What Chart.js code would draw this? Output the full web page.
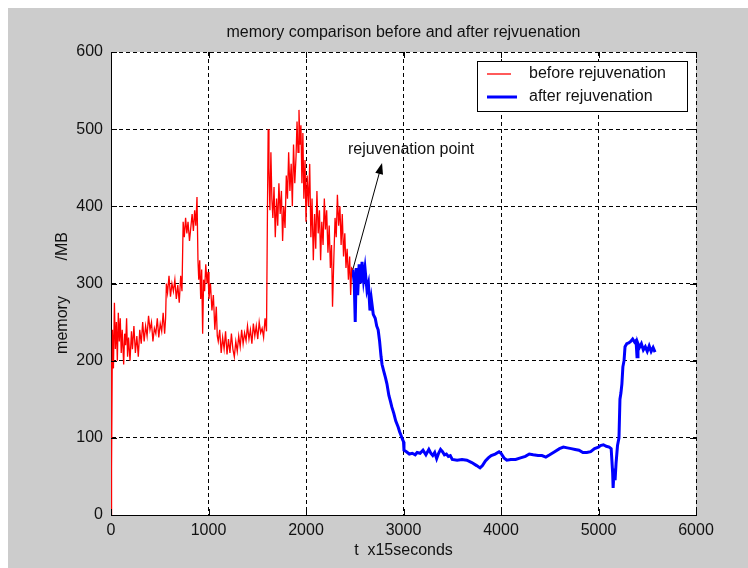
<!DOCTYPE html>
<html>
<head>
<meta charset="utf-8">
<script src="https://cdn.jsdelivr.net/npm/chart.js@4.4.1/dist/chart.umd.min.js"></script>
<style>
html, body { margin: 0; padding: 0; background: #fff; }
canvas { display: block; }
</style>
</head>
<body>
<canvas id="myChart" width="748" height="568"></canvas>
<script>
// memory (MB) vs time (x15 s), before and after rejuvenation
const beforeT = [0, 3, 8, 15, 25, 35, 45, 55, 65, 75, 85, 95, 105, 115, 130, 140, 150, 160, 170, 180,
  195, 210, 220, 235, 250, 265, 280, 295, 310, 325, 340, 355, 370, 385, 400, 415, 430, 445, 460, 475,
  490, 505, 520, 535, 550, 560, 568, 580, 595, 610, 625, 640, 655, 670, 685, 700, 715, 728, 740, 752,
  765, 778, 790, 805, 818, 832, 845, 858, 870, 882, 892, 900, 910, 920, 930, 940, 950, 960, 972, 985,
  995, 1005, 1020, 1035, 1050, 1065, 1080, 1090, 1100, 1115, 1130, 1145, 1160, 1175, 1190, 1205, 1220, 1235, 1250, 1265,
  1280, 1295, 1310, 1325, 1340, 1355, 1370, 1385, 1400, 1415, 1430, 1445, 1460, 1475, 1490, 1505, 1520, 1535, 1550, 1565,
  1580, 1595, 1605, 1612, 1620, 1630, 1640, 1650, 1660, 1672, 1685, 1698, 1710, 1722, 1735, 1748, 1760, 1772, 1785, 1798,
  1810, 1822, 1835, 1848, 1860, 1872, 1885, 1898, 1908, 1918, 1928, 1938, 1948, 1958, 1968, 1978, 1990, 2000, 2012, 2025,
  2038, 2050, 2062, 2075, 2088, 2100, 2112, 2125, 2138, 2150, 2162, 2175, 2188, 2200, 2212, 2225, 2238, 2250, 2262, 2272,
  2285, 2298, 2310, 2322, 2335, 2348, 2360, 2372, 2385, 2398, 2410, 2422, 2435, 2448, 2458, 2468, 2480]
const beforeMem = [0, 200, 60, 240, 190, 275, 215, 250, 200, 262, 225, 255, 210, 240, 195, 235, 220, 255, 205, 230,
  200, 238, 215, 245, 210, 232, 205, 240, 222, 250, 225, 245, 232, 258, 240, 250, 225, 242, 235, 255,
  230, 248, 238, 262, 235, 255, 300, 288, 310, 283, 300, 290, 305, 280, 298, 275, 310, 290, 380, 360,
  385, 365, 380, 355, 372, 390, 368, 395, 375, 412, 330, 305, 330, 280, 318, 235, 305, 290, 325, 300,
  315, 280, 300, 265, 285, 240, 270, 232, 225, 240, 210, 230, 215, 238, 208, 228, 210, 235, 215, 205,
  225, 212, 232, 218, 240, 222, 236, 226, 245, 228, 240, 222, 248, 232, 245, 228, 250, 236, 242, 230,
  255, 238, 400, 500, 450, 395, 470, 410, 385, 425, 360, 410, 375, 430, 390, 420, 355, 400, 372, 440,
  410, 470, 420, 455, 400, 480, 430, 465, 510, 470, 525, 480, 505, 430, 495, 410, 460, 380, 440, 400,
  455, 360, 410, 330, 390, 345, 420, 365, 395, 330, 380, 350, 410, 370, 395, 340, 375, 320, 350, 270,
  330, 385, 360, 415, 375, 400, 350, 390, 335, 365, 320, 345, 305, 335, 285, 320, 318]

const afterT = [2480, 2495, 2505, 2515, 2530, 2545, 2560, 2575, 2590, 2605, 2625, 2640, 2656, 2670, 2690, 2710, 2725, 2740, 2755, 2770,
  2780, 2800, 2815, 2830, 2850, 2865, 2880, 2900, 2920, 2945, 2960, 2975, 2990, 3000, 3005, 3030, 3060, 3090, 3120, 3140,
  3170, 3200, 3230, 3260, 3280, 3300, 3320, 3340, 3360, 3380, 3400, 3420, 3440, 3460, 3480, 3500, 3550, 3600, 3650, 3700,
  3750, 3785, 3810, 3840, 3870, 3900, 3940, 3980, 4000, 4030, 4060, 4100, 4150, 4200, 4250, 4290, 4330, 4380, 4420, 4460,
  4500, 4550, 4600, 4640, 4680, 4720, 4760, 4800, 4840, 4880, 4920, 4960, 5000, 5020, 5050, 5080, 5110, 5130, 5145, 5150,
  5160, 5170, 5180, 5195, 5210, 5220, 5230, 5240, 5250, 5262, 5272, 5290, 5310, 5330, 5350, 5370, 5385, 5395, 5405, 5420,
  5440, 5460, 5480, 5500, 5520, 5540, 5560, 5580]
const afterMem = [318, 300, 250, 320, 285, 325, 300, 328, 305, 320, 292, 300, 265, 280, 260, 255, 245, 240, 225, 205,
  195, 185, 178, 170, 155, 148, 140, 132, 122, 114, 108, 103, 98, 95, 84, 82, 79, 80, 78, 81,
  80, 84, 78, 85, 80, 77, 81, 73, 80, 85, 82, 78, 79, 76, 77, 72, 71, 72, 71, 68,
  64, 61, 64, 70, 74, 77, 79, 82, 80, 74, 71, 72, 72, 74, 76, 79, 78, 77, 77, 75,
  78, 82, 86, 88, 87, 86, 85, 84, 81, 81, 82, 86, 88, 90, 91, 89, 88, 86, 55, 35,
  60, 45, 67, 90, 100, 150, 158, 170, 192, 200, 218, 222, 223, 225, 228, 224, 226, 205, 222, 217,
  222, 214, 218, 212, 219, 212, 217, 211]

const seriesNames = ['before rejuvenation', 'after rejuvenation']
const xTicks = [0, 1000, 2000, 3000, 4000, 5000, 6000]
const yTicks = [0, 100, 200, 300, 400, 500, 600]

// annotation: label and arrow tip in data units, arrow starts at the first "after" point
const noteText = 'rejuvenation point'
const noteAt = [2430, 473]
const arrowTip = [2780, 456]

const fontFam = '"Liberation Sans", Arial, sans-serif'
const textColor = '#111'

function pts(ts, vs) {
  return ts.map((t, i) => ({ x: t, y: vs[i] }))
}

const matlabLook = {
  id: 'matlabLook',
  beforeDraw(chart) {
    const { ctx, chartArea: a, width, height } = chart
    ctx.save()
    ctx.fillStyle = '#fff'
    ctx.fillRect(0, 0, width, height)
    ctx.fillStyle = '#cccccc'
    ctx.fillRect(8, 8, width - 8, height - 8)
    ctx.fillStyle = '#fff'
    ctx.fillRect(a.left, a.top, a.right - a.left, a.bottom - a.top)
    ctx.restore()
  },
  afterDraw(chart) {
    const { ctx, chartArea: a, scales: { x, y } } = chart
    const line = (x1, y1, x2, y2) => { ctx.beginPath(); ctx.moveTo(x1, y1); ctx.lineTo(x2, y2); ctx.stroke() }
    ctx.save()

    // inward tick marks
    ctx.strokeStyle = '#000'
    ctx.lineWidth = 1
    xTicks.forEach(v => {
      const px = Math.round(x.getPixelForValue(v)) + 0.5
      line(px, a.bottom, px, a.bottom - 6)
      line(px, a.top, px, a.top + 6)
    })
    yTicks.forEach(v => {
      const py = Math.round(y.getPixelForValue(v)) + 0.5
      line(a.left, py, a.left + 6, py)
      line(a.right, py, a.right - 6, py)
    })

    // title and axis labels
    ctx.fillStyle = textColor
    ctx.textAlign = 'center'
    ctx.textBaseline = 'middle'
    ctx.font = '16px ' + fontFam
    ctx.fillText('memory comparison before and after rejvuenation', (a.left + a.right) / 2, 33)
    ctx.fillText('t  x15seconds', (a.left + a.right) / 2, 551)
    ctx.save()
    ctx.translate(63, 293)
    ctx.rotate(-Math.PI / 2)
    ctx.fillText('memory        /MB', 0, 0)
    ctx.restore()

    // legend box
    const lx = 477, ly = 61, lw = 210, lh = 50
    ctx.fillStyle = '#fff'
    ctx.fillRect(lx, ly, lw, lh)
    ctx.strokeStyle = '#000'
    ctx.strokeRect(lx + 0.5, ly + 0.5, lw, lh)
    chart.data.datasets.forEach((ds, i) => {
      const yy = ly + 13 + i * 23
      ctx.strokeStyle = ds.borderColor
      ctx.lineWidth = ds.borderWidth
      line(lx + 10, yy, lx + 10 + (i ? 30 : 24), yy)
      ctx.fillStyle = textColor
      ctx.textAlign = 'left'
      ctx.fillText(ds.label, lx + 52, yy)
    })

    // annotation arrow
    const sx = x.getPixelForValue(afterT[0]), sy = y.getPixelForValue(afterMem[0])
    const tx = x.getPixelForValue(arrowTip[0]), ty = y.getPixelForValue(arrowTip[1])
    const ang = Math.atan2(ty - sy, tx - sx)
    ctx.strokeStyle = '#000'
    ctx.lineWidth = 1
    line(sx, sy, tx - 9 * Math.cos(ang), ty - 9 * Math.sin(ang))
    ctx.fillStyle = '#000'
    ctx.beginPath()
    ctx.moveTo(tx, ty)
    ctx.lineTo(tx - 11 * Math.cos(ang) + 4 * Math.sin(ang), ty - 11 * Math.sin(ang) - 4 * Math.cos(ang))
    ctx.lineTo(tx - 11 * Math.cos(ang) - 4 * Math.sin(ang), ty - 11 * Math.sin(ang) + 4 * Math.cos(ang))
    ctx.closePath()
    ctx.fill()
    ctx.fillStyle = textColor
    ctx.textAlign = 'left'
    ctx.fillText(noteText, x.getPixelForValue(noteAt[0]), y.getPixelForValue(noteAt[1]))

    ctx.restore()
  }
}

Chart.defaults.font.family = fontFam
Chart.defaults.font.size = 16
Chart.defaults.color = textColor

let ctx = document.getElementById('myChart')

let myChart = new Chart(ctx, {
  type: 'line',
  data: {
    datasets: [{
      label: seriesNames[0],
      data: pts(beforeT, beforeMem),
      borderColor: '#ff0000',
      borderWidth: 1.3,
      pointRadius: 0,
      tension: 0,
    }, {
      label: seriesNames[1],
      data: pts(afterT, afterMem),
      borderColor: '#0000ff',
      borderWidth: 3,
      pointRadius: 0,
      tension: 0,
    }]
  },
  options: {
    responsive: false,
    animation: false,
    layout: { padding: { top: 52, right: 52, left: 0, bottom: 0 } },
    plugins: {
      legend: { display: false },
      title: { display: false },
      tooltip: { enabled: false },
    },
    scales: {
      x: {
        type: 'linear',
        min: 0,
        max: 6000,
        afterBuildTicks: s => { s.ticks = xTicks.map(v => ({ value: v })) },
        afterFit: s => { s.height = 53 },
        grid: { color: '#000', lineWidth: 1, drawTicks: false },
        border: { display: true, color: '#000', width: 1, dash: [4, 3] },
        ticks: { padding: 6, maxRotation: 0, callback: v => String(v) },
      },
      y: {
        min: 0,
        max: 600,
        afterBuildTicks: s => { s.ticks = yTicks.map(v => ({ value: v })) },
        afterFit: s => { s.width = 111 },
        grid: { color: '#000', lineWidth: 1, drawTicks: false },
        border: { display: true, color: '#000', width: 1, dash: [4, 3] },
        ticks: { padding: 8, callback: v => String(v) },
      }
    }
  },
  plugins: [matlabLook]
})
</script>
</body>
</html>
